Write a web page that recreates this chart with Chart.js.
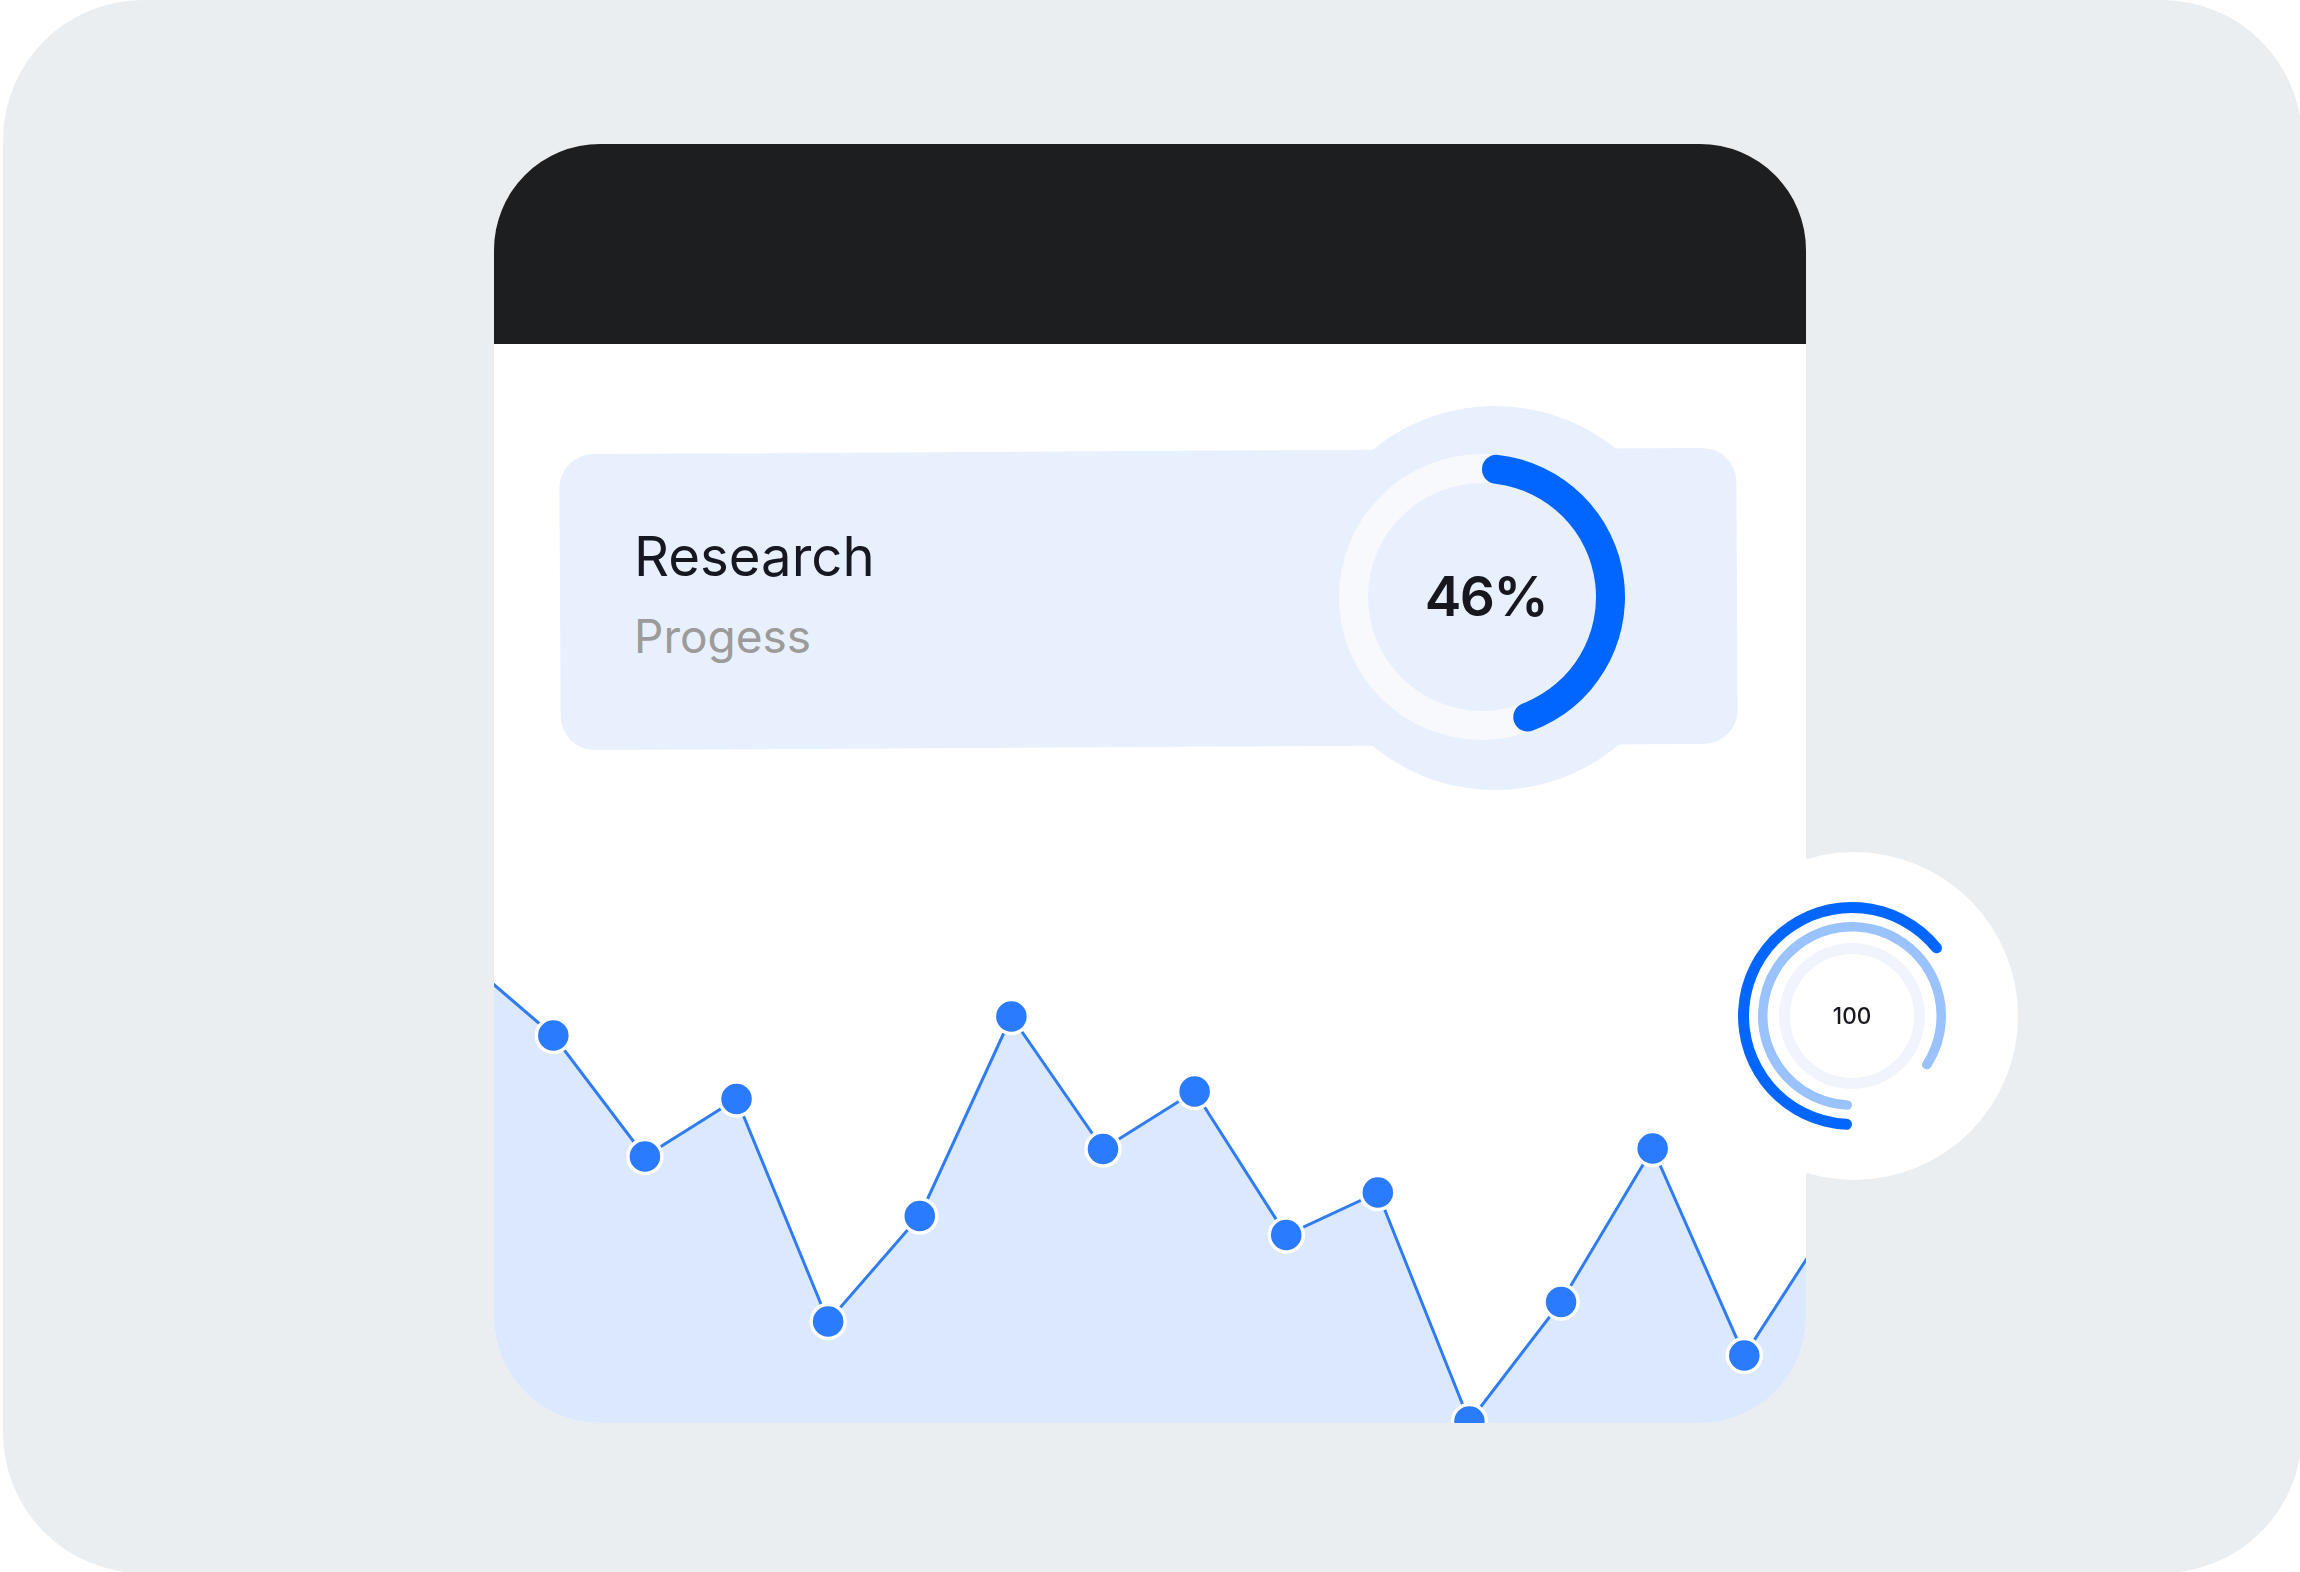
<!DOCTYPE html>
<html>
<head>
<meta charset="utf-8">
<script src="https://cdn.jsdelivr.net/npm/chart.js@4"></script>
<style>
  html, body { margin:0; padding:0; width:2300px; height:1572px; overflow:hidden; background:#FFFFFF; }
  body { position:relative; font-family: 'Inter', 'Noto Sans', sans-serif; }
  .abs { position:absolute; }
  #bg { left:3px; top:0; width:2299px; height:1573px; border-radius:140px; background:#EAEEF1; }
  #card { left:494px; top:144px; width:1312px; height:1279px; border-radius:106px; background:#FFFFFF; overflow:hidden; }
  #header { left:0; top:0; width:1312px; height:200px; background:#1D1E20; }
  #lineCanvas { position:absolute; left:-94px; top:699px; }
  #pill { left:559.5px; top:450.6px; width:1177px; height:296px; border-radius:34px; background:#E8F0FE; transform:rotate(-0.32deg); }
  #pillCircle { left:1303px; top:405.5px; width:384px; height:384px; border-radius:50%; background:#E8F0FE; }
  #progressTrack, #progressArc { left:1332px; top:447px; }
  .txt { position:absolute; line-height:0; white-space:nowrap; }
  #title { left:634px; top:555.7px; font-size:54.5px; font-weight:400; color:#161821; }
  #subtitle { left:634px; top:636.3px; font-size:46px; font-weight:400; color:#9B9B9B; }
  #pct { left:1286px; width:400px; text-align:center; top:596.3px; font-size:55px; font-weight:600; letter-spacing:-1.5px; color:#16171F; }
  #widget { left:1689.7px; top:851.8px; width:328px; height:328px; border-radius:50%; background:#FFFFFF; }
  #rings { left:1732px; top:895.5px; }
  #ringText { left:1752px; width:200px; text-align:center; top:1015.8px; font-size:22.5px; font-weight:500; color:#16171F; }
</style>
</head>
<body>
<script>
// ---- data ----
const categories = ['1','2','3','4','5','6','7','8','9','10','11','12','13','14','15','16'];
const seriesValues = [93.2, 77.5, 53.3, 64.8, 20.3, 41.4, 81.3, 54.8, 66.3, 37.6, 46.1, 0.3, 24.2, 54.9, 13.5, 41.9];
const yRange = [0, 100];
const progressLabel = 'Research';
const progressSubLabel = 'Progess';
const progressValue = 46;
const progressTotal = 100;
const ringNames = ['Outer', 'Middle', 'Inner'];
const ringValues = [65, 85, 100];
const ringTotal = 100;
const ringCenterLabel = '100';
</script>

<div id="bg" class="abs"></div>
<div id="card" class="abs">
  <div id="header" class="abs"></div>
  <canvas id="lineCanvas" width="1500" height="630" style="width:1500px;height:630px"></canvas>
</div>
<div id="pill" class="abs"></div>
<div id="pillCircle" class="abs"></div>
<canvas id="progressTrack" class="abs" width="300" height="300" style="width:300px;height:300px"></canvas>
<canvas id="progressArc" class="abs" width="300" height="300" style="width:300px;height:300px"></canvas>
<div id="title" class="txt"></div>
<div id="subtitle" class="txt"></div>
<div id="pct" class="txt"></div>
<div id="widget" class="abs"></div>
<canvas id="rings" class="abs" width="240" height="240" style="width:240px;height:240px"></canvas>
<div id="ringText" class="txt"></div>

<script>
document.getElementById('title').textContent = progressLabel;
document.getElementById('subtitle').textContent = progressSubLabel;
document.getElementById('pct').textContent = progressValue + '%';
document.getElementById('ringText').textContent = ringCenterLabel;

const basePlugins = { legend: { display: false }, tooltip: { enabled: false } };

// Area line chart
new Chart(document.getElementById('lineCanvas'), {
  type: 'line',
  data: {
    labels: categories,
    datasets: [{
      data: seriesValues,
      borderColor: '#2F7CF6',
      borderWidth: 3,
      backgroundColor: '#DCE8FD',
      fill: 'start',
      tension: 0,
      clip: false,
      pointRadius: 17,
      pointHoverRadius: 17,
      pointBackgroundColor: '#2B7BFF',
      pointBorderColor: '#FFFFFF',
      pointBorderWidth: 3.5,
      pointHoverBorderWidth: 3.5
    }]
  },
  options: {
    responsive: false,
    animation: false,
    events: [],
    layout: { autoPadding: false, padding: { left: 61.7, right: 64.1, top: 80, bottom: 50 } },
    plugins: basePlugins,
    scales: {
      x: { display: false, offset: false },
      y: { display: false, min: yRange[0], max: yRange[1] }
    }
  }
});

// Progress doughnut: track + arc
const progOuter = 143, progInner = 114;
new Chart(document.getElementById('progressTrack'), {
  type: 'doughnut',
  data: { labels: ['track'], datasets: [{ data: [progressTotal], backgroundColor: ['#F7F9FD'], borderWidth: 0, hoverOffset: 0, offset: 0 }] },
  options: { responsive: false, animation: false, events: [], radius: progOuter, cutout: (progInner / progOuter * 100) + '%', plugins: basePlugins }
});
new Chart(document.getElementById('progressArc'), {
  type: 'doughnut',
  data: { labels: ['done', 'rest'], datasets: [{ data: [progressValue, progressTotal - progressValue], backgroundColor: ['#0066FF', 'rgba(0,0,0,0)'], borderWidth: 0, borderRadius: 14.5, hoverOffset: 0, offset: 0 }] },
  options: { responsive: false, animation: false, events: [], radius: progOuter, cutout: (progInner / progOuter * 100) + '%', plugins: basePlugins }
});

// Concentric rings (outer -> inner), with transparent spacer rings between
const ringOuter = 114, ringInner = 62;
const T = 'rgba(0,0,0,0)';
new Chart(document.getElementById('rings'), {
  type: 'doughnut',
  data: {
    labels: ['value', 'rest'],
    datasets: [
      { label: ringNames[0], data: [ringValues[0], ringTotal - ringValues[0]], backgroundColor: ['#0066FF', T], borderWidth: 0, borderRadius: 5.5, weight: 11, hoverOffset: 0 },
      { label: 'gap1', data: [ringTotal], backgroundColor: [T], borderWidth: 0, weight: 9, hoverOffset: 0 },
      { label: ringNames[1], data: [ringValues[1], ringTotal - ringValues[1]], backgroundColor: ['#99C2FF', T], borderWidth: 0, borderRadius: 4.75, weight: 9.5, hoverOffset: 0 },
      { label: 'gap2', data: [ringTotal], backgroundColor: [T], borderWidth: 0, weight: 11.5, hoverOffset: 0 },
      { label: ringNames[2], data: [ringValues[2]], backgroundColor: ['#F1F3FD'], borderWidth: 0, weight: 11, hoverOffset: 0 }
    ]
  },
  options: { responsive: false, animation: false, events: [], rotation: 180, radius: ringOuter, cutout: (ringInner / ringOuter * 100) + '%', plugins: basePlugins }
});
</script>
</body>
</html>
